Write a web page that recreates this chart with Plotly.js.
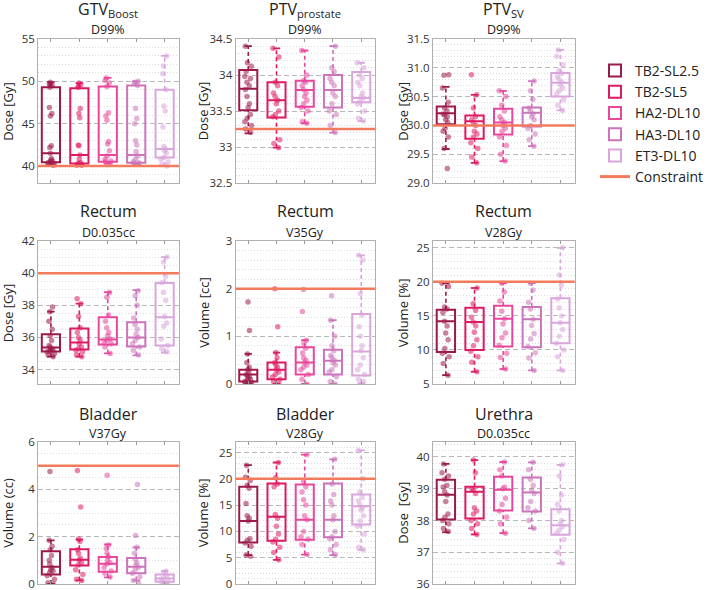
<!DOCTYPE html>
<html>
<head>
<meta charset="utf-8">
<script src="https://cdn.plot.ly/plotly-3.0.1.min.js"></script>
<style>html,body{margin:0;padding:0;background:#fff;}#chart{width:709px;height:590px;}</style>
</head>
<body>
<div id="chart"></div>
<script>
// ---------- DATA ----------
const seriesNames = ['TB2-SL2.5', 'TB2-SL5', 'HA2-DL10', 'HA3-DL10', 'ET3-DL10'];
const seriesColors = ['#9c1a4b', '#de1a63', '#e8479c', '#cc74bb', '#d9a6dc'];
const constraintName = 'Constraint';
const constraintColor = '#f27b5b';

const panelTitles = ['GTV<sub>Boost</sub>', 'PTV<sub>prostate</sub>', 'PTV<sub>SV</sub>', 'Rectum', 'Rectum', 'Rectum', 'Bladder', 'Bladder', 'Urethra'];
const panelSubtitles = ['D99%', 'D99%', 'D99%', 'D0.035cc', 'V35Gy', 'V28Gy', 'V37Gy', 'V28Gy', 'D0.035cc'];
const yTitles = ['Dose [Gy]', 'Dose [Gy]', 'Dose [Gy]', 'Dose [Gy]', 'Volume [cc]', 'Volume [%]', 'Volume (cc)', 'Volume [%]', 'Dose  [Gy]'];
const constraints = [40, 33.25, 30.0, 40, 2, 20, 5, 20, 41];

// GTV Boost D99%
const gtvQ1 = [40.45, 40.3, 40.5, 40.4, 41.0];
const gtvMed = [41.5, 41.3, 41.3, 41.3, 42.0];
const gtvQ3 = [49.3, 49.2, 49.4, 49.5, 49.0];
const gtvLo = [40.1, 40.1, 40.3, 40.2, 40.0];
const gtvHi = [49.9, 49.8, 50.4, 50.0, 53.0];
const gtvPts = [
  [49.9, 49.7, 49.6, 49.5, 49.3, 46.9, 46.2, 45.9, 42.4, 42.2, 41.5, 40.9, 40.7, 40.6, 40.5, 40.4, 40.3, 40.2, 40.1],
  [49.8, 49.6, 49.4, 49.3, 46.8, 46.2, 45.7, 42.5, 42.4, 41.3, 40.8, 40.4, 40.3, 40.2, 40.2, 40.1, 40.1],
  [50.4, 50.1, 49.8, 49.4, 46.3, 45.9, 45.4, 42.9, 42.6, 41.8, 41.2, 40.8, 40.6, 40.5, 40.3],
  [50.0, 49.9, 49.8, 49.5, 46.8, 45.6, 45.0, 43.0, 42.5, 41.7, 41.2, 40.8, 40.5, 40.4, 40.3, 40.2],
  [53.0, 51.8, 50.9, 49.0, 47.1, 46.5, 44.6, 42.3, 42.0, 41.8, 41.5, 41.0, 40.8, 40.5, 40.2, 40.0]
];

// PTV prostate D99%
const ptvpQ1 = [33.51, 33.41, 33.56, 33.55, 33.62];
const ptvpMed = [33.81, 33.65, 33.79, 33.79, 33.68];
const ptvpQ3 = [34.07, 33.90, 33.92, 34.00, 34.04];
const ptvpLo = [33.19, 32.99, 33.33, 33.20, 33.36];
const ptvpHi = [34.40, 34.37, 34.34, 34.40, 34.17];
const ptvpPts = [
  [34.40, 34.17, 34.12, 34.05, 33.98, 33.95, 33.90, 33.85, 33.80, 33.70, 33.60, 33.55, 33.45, 33.40, 33.35, 33.30, 33.25, 33.20],
  [34.37, 34.25, 33.90, 33.85, 33.75, 33.70, 33.65, 33.60, 33.50, 33.45, 33.42, 33.10, 33.05, 32.99],
  [34.34, 34.00, 33.92, 33.90, 33.85, 33.80, 33.75, 33.70, 33.65, 33.60, 33.55, 33.50, 33.35, 33.33],
  [34.40, 34.10, 34.05, 33.95, 33.90, 33.85, 33.75, 33.70, 33.60, 33.50, 33.45, 33.30, 33.20],
  [34.17, 34.10, 34.00, 33.95, 33.90, 33.85, 33.75, 33.70, 33.68, 33.65, 33.60, 33.50, 33.40, 33.36]
];

// PTV SV D99%
const ptvsQ1 = [30.02, 29.77, 29.84, 29.98, 30.50];
const ptvsMed = [30.21, 30.07, 30.05, 30.22, 30.74];
const ptvsQ3 = [30.33, 30.17, 30.29, 30.31, 30.91];
const ptvsLo = [29.59, 29.35, 29.38, 29.64, 30.26];
const ptvsHi = [30.67, 30.53, 30.60, 30.77, 31.31];
const ptvsPts = [
  [30.88, 30.87, 30.65, 30.40, 30.30, 30.25, 30.20, 30.18, 30.15, 30.10, 30.05, 29.95, 29.90, 29.80, 29.60, 29.25],
  [30.88, 30.53, 30.30, 30.15, 30.10, 30.05, 30.00, 29.90, 29.85, 29.80, 29.70, 29.60, 29.45, 29.35],
  [30.60, 30.50, 30.35, 30.25, 30.15, 30.10, 30.05, 30.00, 29.95, 29.90, 29.80, 29.65, 29.50, 29.38],
  [30.77, 30.60, 30.45, 30.30, 30.25, 30.20, 30.15, 30.10, 30.00, 29.95, 29.85, 29.75, 29.64],
  [31.31, 31.20, 31.05, 30.95, 30.90, 30.85, 30.80, 30.75, 30.70, 30.65, 30.60, 30.55, 30.45, 30.35, 30.26]
];

// Rectum D0.035cc
const recdQ1 = [35.13, 35.25, 35.56, 35.44, 35.50];
const recdMed = [35.37, 35.69, 35.87, 36.00, 37.25];
const recdQ3 = [36.19, 36.56, 37.25, 36.94, 39.38];
const recdLo = [34.80, 34.80, 35.00, 34.88, 35.06];
const recdHi = [37.60, 38.10, 38.81, 38.94, 41.00];
const recdPts = [
  [37.9, 37.6, 37.0, 36.5, 36.1, 35.8, 35.5, 35.4, 35.3, 35.25, 35.2, 35.15, 35.1, 35.0, 34.9, 34.8],
  [38.4, 38.1, 37.3, 36.6, 36.3, 36.0, 35.8, 35.6, 35.4, 35.3, 35.2, 35.1, 34.9, 34.8],
  [38.8, 38.5, 37.4, 37.0, 36.6, 36.3, 36.1, 35.9, 35.8, 35.7, 35.6, 35.4, 35.0],
  [38.9, 38.6, 38.0, 37.2, 36.8, 36.5, 36.2, 36.0, 35.8, 35.6, 35.4, 35.2, 34.9],
  [41.0, 40.7, 39.8, 39.4, 38.8, 38.3, 37.3, 36.9, 36.7, 35.9, 35.5, 35.3, 35.1]
];

// Rectum V35Gy
const recv35Q1 = [0.05, 0.10, 0.20, 0.20, 0.18];
const recv35Med = [0.20, 0.30, 0.45, 0.49, 0.68];
const recv35Q3 = [0.30, 0.45, 0.77, 0.72, 1.47];
const recv35Lo = [0.00, 0.00, 0.00, 0.00, 0.02];
const recv35Hi = [0.63, 0.66, 0.92, 1.34, 2.70];
const recv35Pts = [
  [1.72, 1.12, 0.63, 0.45, 0.35, 0.30, 0.25, 0.20, 0.18, 0.15, 0.12, 0.10, 0.08, 0.05, 0.03, 0.02, 0.00],
  [2.00, 1.20, 0.66, 0.55, 0.45, 0.40, 0.35, 0.30, 0.25, 0.20, 0.15, 0.10, 0.05, 0.00],
  [1.98, 1.52, 0.92, 0.85, 0.75, 0.65, 0.55, 0.50, 0.45, 0.40, 0.35, 0.30, 0.20, 0.10, 0.00],
  [1.85, 1.34, 1.00, 0.80, 0.70, 0.60, 0.55, 0.50, 0.45, 0.40, 0.30, 0.25, 0.15, 0.05, 0.00],
  [2.70, 2.60, 1.90, 1.45, 1.20, 1.00, 0.80, 0.70, 0.55, 0.40, 0.30, 0.20, 0.10, 0.05]
];

// Rectum V28Gy
const recv28Q1 = [9.7, 10.0, 10.5, 10.4, 11.0];
const recv28Med = [14.2, 14.1, 14.6, 14.5, 14.0];
const recv28Q3 = [15.9, 16.2, 16.5, 16.3, 17.6];
const recv28Lo = [6.3, 6.8, 7.2, 7.0, 7.0];
const recv28Hi = [19.8, 19.1, 19.8, 19.8, 25.0];
const recv28Pts = [
  [19.8, 19.3, 16.3, 16.0, 15.5, 14.2, 13.5, 12.5, 11.5, 10.2, 9.5, 9.0, 8.0, 6.3],
  [19.1, 16.8, 15.8, 14.8, 14.1, 13.5, 12.6, 11.5, 10.6, 9.8, 9.0, 8.2, 6.8],
  [19.8, 18.5, 17.2, 15.7, 14.6, 13.8, 12.5, 11.8, 10.7, 9.5, 8.9, 7.2],
  [19.8, 18.8, 17.0, 16.0, 14.5, 13.6, 12.4, 11.6, 10.5, 9.6, 8.8, 7.0],
  [25.0, 21.0, 19.5, 17.5, 16.2, 15.0, 14.0, 13.0, 12.0, 11.0, 10.0, 9.0, 7.0]
];

// Bladder V37Gy
const blv37Q1 = [0.40, 0.78, 0.52, 0.45, 0.10];
const blv37Med = [0.73, 1.02, 0.86, 0.73, 0.23];
const blv37Q3 = [1.38, 1.47, 1.14, 1.10, 0.40];
const blv37Lo = [0.00, 0.15, 0.28, 0.15, 0.00];
const blv37Hi = [1.84, 1.88, 1.67, 1.55, 0.55];
const blv37Pts = [
  [4.75, 1.85, 1.60, 1.45, 1.20, 1.00, 0.85, 0.70, 0.60, 0.55, 0.50, 0.35, 0.20, 0.05, 0.00],
  [4.80, 3.25, 1.90, 1.80, 1.45, 1.30, 1.10, 1.00, 0.90, 0.80, 0.60, 0.40, 0.20, 0.15],
  [4.60, 1.65, 1.50, 1.30, 1.15, 1.00, 0.90, 0.85, 0.70, 0.55, 0.45, 0.30],
  [4.20, 2.05, 1.55, 1.30, 1.05, 0.90, 0.80, 0.70, 0.60, 0.45, 0.30, 0.15, 0.05],
  [0.55, 0.45, 0.35, 0.25, 0.20, 0.10, 0.05, 0.00]
];

// Bladder V28Gy
const blv28Q1 = [7.9, 8.2, 8.4, 8.9, 11.3];
const blv28Med = [12.0, 12.8, 12.2, 12.2, 14.8];
const blv28Q3 = [18.5, 19.1, 18.9, 19.1, 17.0];
const blv28Lo = [5.5, 4.6, 5.6, 5.5, 6.5];
const blv28Hi = [22.6, 23.1, 24.6, 23.7, 25.4];
const blv28Pts = [
  [22.6, 20.3, 19.7, 18.8, 18.2, 15.3, 13.0, 12.5, 12.0, 8.6, 8.3, 7.8, 7.2, 5.5, 5.3],
  [23.1, 20.2, 19.0, 18.5, 13.2, 12.5, 11.0, 9.5, 8.5, 8.0, 7.0, 6.0, 4.6],
  [24.6, 19.5, 18.5, 17.5, 16.0, 15.0, 13.0, 12.2, 10.0, 9.0, 8.5, 7.5, 5.6],
  [23.7, 19.0, 17.0, 15.8, 15.0, 13.0, 12.2, 10.0, 9.0, 8.6, 7.5, 6.5, 5.6],
  [25.4, 20.0, 17.5, 16.5, 15.8, 15.0, 14.5, 14.0, 13.0, 12.0, 11.0, 9.5, 7.0, 6.5]
];

// Urethra D0.035cc
const urQ1 = [38.03, 38.06, 38.31, 38.28, 37.55];
const urMed = [38.81, 38.90, 38.97, 38.88, 37.85];
const urQ3 = [39.28, 39.06, 39.38, 39.35, 38.35];
const urLo = [37.63, 37.56, 37.60, 37.75, 36.65];
const urHi = [39.78, 39.90, 39.84, 39.83, 39.75];
const urPts = [
  [39.78, 39.5, 39.4, 39.3, 39.1, 39.05, 38.9, 38.8, 38.6, 38.2, 38.1, 38.0, 37.9, 37.75, 37.65],
  [39.9, 39.5, 39.0, 38.95, 38.85, 38.4, 38.3, 38.2, 38.0, 37.9, 37.75, 37.56],
  [39.84, 39.6, 39.4, 39.05, 39.0, 38.7, 38.5, 38.3, 38.1, 37.9, 37.6],
  [39.83, 39.6, 39.3, 39.1, 38.95, 38.85, 38.6, 38.4, 38.3, 38.0, 37.75],
  [39.75, 39.4, 38.8, 38.5, 38.3, 38.0, 37.9, 37.8, 37.7, 37.6, 37.4, 37.0, 36.65]
];

// axis ranges / ticks per panel
const yRanges = [[38, 55], [32.5, 34.5], [29, 31.5], [33.1, 42], [0, 3], [5, 26], [0, 6], [0, 27], [36, 40.47]];
const yDticks = [5, 0.5, 0.5, 2, 1, 5, 2, 5, 1];
const yMinorDticks = [1, 0.1, 0.1, 0.5, 0.2, 1, 0.5, 1, 0.2];
const yTickFormats = ['', '', '.1f', '', '', '', '', '', ''];

// ---------- BUILD ----------
const stats = [
  [gtvQ1, gtvMed, gtvQ3, gtvLo, gtvHi, gtvPts],
  [ptvpQ1, ptvpMed, ptvpQ3, ptvpLo, ptvpHi, ptvpPts],
  [ptvsQ1, ptvsMed, ptvsQ3, ptvsLo, ptvsHi, ptvsPts],
  [recdQ1, recdMed, recdQ3, recdLo, recdHi, recdPts],
  [recv35Q1, recv35Med, recv35Q3, recv35Lo, recv35Hi, recv35Pts],
  [recv28Q1, recv28Med, recv28Q3, recv28Lo, recv28Hi, recv28Pts],
  [blv37Q1, blv37Med, blv37Q3, blv37Lo, blv37Hi, blv37Pts],
  [blv28Q1, blv28Med, blv28Q3, blv28Lo, blv28Hi, blv28Pts],
  [urQ1, urMed, urQ3, urLo, urHi, urPts]
];

const W = 709, H = 590;
const colPx = [[39, 183], [241, 384], [443, 588]];
const rowPx = [[39, 183], [241, 384], [442, 584]];
const titleY = [10, 211, 414];
const subY = [29, 232, 434];
const yTitleX = [8, 208, 412];
const FONT = '"Open Sans", "Noto Sans", sans-serif';

const traces = [];
const layout = {
  width: W, height: H,
  margin: {l: 0, r: 0, t: 0, b: 0},
  paper_bgcolor: '#ffffff', plot_bgcolor: '#ffffff',
  font: {family: FONT, color: '#222'},
  showlegend: true,
  legend: {x: 609 / W, y: 1 - 55 / H, xanchor: 'left', yanchor: 'top', tracegroupgap: 0,
    font: {size: 14, color: '#222'}, bgcolor: 'rgba(0,0,0,0)'},
  annotations: [], shapes: []
};

const capHalf = 0.13;
for (let p = 0; p < 9; p++) {
  const r = Math.floor(p / 3), c = p % 3;
  const ax = p === 0 ? '' : String(p + 1);
  const xa = 'x' + ax, ya = 'y' + ax;
  const [q1, med, q3, lo, hi, pts] = stats[p];

  layout['xaxis' + ax] = {
    domain: [colPx[c][0] / W, colPx[c][1] / W], anchor: ya,
    range: [0.55, 5.5], tickvals: [1, 2, 3, 4, 5], showticklabels: false,
    ticks: 'inside', ticklen: 3, tickcolor: '#999', tickwidth: 1,
    showline: true, linecolor: '#b0b0b0', linewidth: 1, mirror: 'ticks',
    showgrid: false, zeroline: false, fixedrange: true
  };
  layout['yaxis' + ax] = {
    domain: [1 - rowPx[r][1] / H, 1 - rowPx[r][0] / H], anchor: xa,
    range: yRanges[p], dtick: yDticks[p], tick0: 0, tickformat: yTickFormats[p],
    ticks: '', tickfont: {size: 11.5, color: '#333'}, ticklabeloverflow: 'allow',
    showline: true, linecolor: '#b0b0b0', linewidth: 1, mirror: true,
    showgrid: true, gridcolor: '#b8b8b8', gridwidth: 1, griddash: '5px,3px',
    minor: {dtick: yMinorDticks[p], tick0: 0, showgrid: true, gridcolor: '#dcdcdc', griddash: '1px,2px', gridwidth: 1},
    zeroline: false, fixedrange: true
  };

  // constraint line
  layout.shapes.push({
    type: 'line', xref: xa + ' domain', yref: ya, x0: 0, x1: 1,
    y0: constraints[p], y1: constraints[p], layer: 'above',
    line: {color: constraintColor, width: 2.5}
  });

  for (let s = 0; s < 5; s++) {
    const pos = s + 1;
    const col = seriesColors[s];
    // dashed whiskers
    traces.push({
      type: 'scatter', mode: 'lines', xaxis: xa, yaxis: ya, showlegend: false, hoverinfo: 'skip',
      x: [pos, pos, null, pos, pos], y: [q3[s], hi[s], null, lo[s], q1[s]],
      line: {color: col, width: 1.6, dash: '4px,3px'}
    });
    // whisker caps
    traces.push({
      type: 'scatter', mode: 'lines', xaxis: xa, yaxis: ya, showlegend: false, hoverinfo: 'skip',
      x: [pos - capHalf, pos + capHalf, null, pos - capHalf, pos + capHalf], y: [hi[s], hi[s], null, lo[s], lo[s]],
      line: {color: col, width: 1.8}
    });
    // box with sample points
    traces.push({
      type: 'box', orientation: 'v', xaxis: xa, yaxis: ya,
      name: seriesNames[s], showlegend: p === 0,
      x: [pos], y: [pts[s]],
      q1: [q1[s]], median: [med[s]], q3: [q3[s]], lowerfence: [q1[s]], upperfence: [q3[s]],
      boxpoints: 'all', jitter: 0.5, pointpos: 0, width: 0.64, whiskerwidth: 0,
      line: {color: col, width: 2}, fillcolor: 'rgba(255,255,255,0)',
      marker: {color: col, size: 5.5, opacity: 0.55, line: {width: 0}},
      hoverinfo: 'y'
    });
  }

  const cx = (colPx[c][0] + colPx[c][1]) / 2 / W;
  layout.annotations.push({
    text: panelTitles[p], xref: 'paper', yref: 'paper', x: cx, y: 1 - titleY[r] / H,
    xanchor: 'center', yanchor: 'middle', showarrow: false, font: {size: 16, color: '#222'}
  });
  layout.annotations.push({
    text: panelSubtitles[p], xref: 'paper', yref: 'paper', x: cx, y: 1 - subY[r] / H,
    xanchor: 'center', yanchor: 'middle', showarrow: false, font: {size: 12.5, color: '#222'}
  });
  layout.annotations.push({
    text: yTitles[p], xref: 'paper', yref: 'paper', x: yTitleX[c] / W,
    y: 1 - (rowPx[r][0] + rowPx[r][1]) / 2 / H, textangle: -90,
    xanchor: 'center', yanchor: 'middle', showarrow: false, font: {size: 13, color: '#222'}
  });
}

// legend entry for constraint
traces.push({
  type: 'scatter', mode: 'lines', name: constraintName, x: [null], y: [null],
  xaxis: 'x', yaxis: 'y', line: {color: constraintColor, width: 3}, hoverinfo: 'skip'
});

Plotly.newPlot('chart', traces, layout, {displayModeBar: false});
</script>
</body>
</html>
